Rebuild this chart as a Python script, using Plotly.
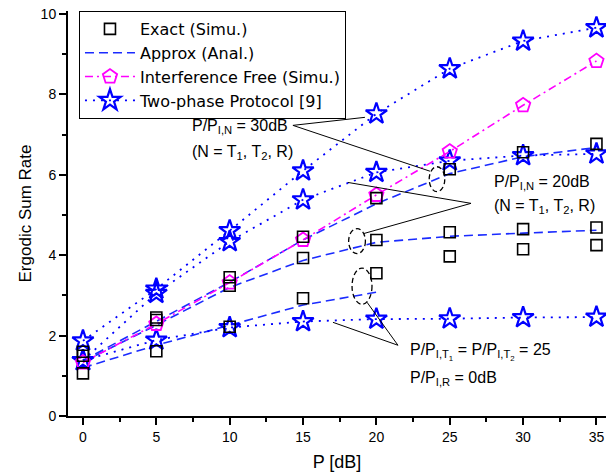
import plotly.graph_objects as go

# ---------------- data ----------------
p_db = [0, 5, 10, 15, 20, 25, 30, 35]
x_ticks = [0, 5, 10, 15, 20, 25, 30, 35]
y_ticks = [0, 2, 4, 6, 8, 10]

# Exact (Simu.) - three cases: 30dB, 20dB, T1/T2=25, R=0dB
exact_30 = [1.60, 2.45, 3.45, 4.46, 5.42, 6.14, 6.56, 6.77]
exact_20 = [1.50, 2.39, 3.24, 3.93, 4.38, 4.57, 4.65, 4.69]
exact_0 = [1.06, 1.61, 2.22, 2.93, 3.55, 3.97, 4.15, 4.25]

# Approx (Anal.)
approx_30 = [1.38, 2.36, 3.33, 4.38, 5.28, 6.03, 6.45, 6.68]
approx_20 = [1.35, 2.26, 3.20, 3.87, 4.32, 4.47, 4.55, 4.62]
approx_0 = [1.20, 1.76, 2.26, 2.76, 3.08, None, None, None]

# Interference Free (Simu.)
free = [1.33, 2.29, 3.32, 4.38, 5.50, 6.58, 7.73, 8.83]

# Two-phase Protocol [9]
two_30 = [1.87, 3.16, 4.61, 6.10, 7.52, 8.64, 9.33, 9.66]
two_20 = [1.38, 3.05, 4.34, 5.38, 6.06, 6.35, 6.48, 6.52]
two_0 = [1.38, 1.89, 2.20, 2.35, 2.41, 2.42, 2.45, 2.46]

legend_names = ["Exact (Simu.)", "Approx (Anal.)", "Interference Free (Simu.)", "Two-phase Protocol [9]"]

BLUE = "#0000ff"
BLUE_D = "#1a2bff"
MAG = "#ff00ff"
FONT = "Liberation Sans, Arial, sans-serif"
LEG_FONT = "DejaVu Sans, Liberation Sans, sans-serif"

fig = go.Figure()

# Approx lines
for i, ys in enumerate([approx_30, approx_20, approx_0]):
    fig.add_trace(go.Scatter(
        x=p_db, y=ys, mode="lines", name=legend_names[1],
        legendgroup="approx", showlegend=(i == 0), legendrank=2,
        line=dict(color=BLUE_D, width=1.6, dash="9px,5px"),
        connectgaps=False))

# Two-phase dotted lines + stars
for i, ys in enumerate([two_30, two_20, two_0]):
    fig.add_trace(go.Scatter(
        x=p_db, y=ys, mode="lines+markers", name=legend_names[3],
        legendgroup="two", showlegend=(i == 0), legendrank=4,
        line=dict(color=BLUE, width=1.8, dash="2px,6px"),
        marker=dict(symbol="star-open", size=16, color=BLUE,
                    line=dict(color=BLUE, width=2.2))))

# Interference free
fig.add_trace(go.Scatter(
    x=p_db, y=free, mode="lines+markers", name=legend_names[2],
    legendgroup="free", legendrank=3,
    line=dict(color=MAG, width=1.6, dash="8px,4px,2px,4px"),
    marker=dict(symbol="pentagon-open", size=15, color=MAG,
                line=dict(color=MAG, width=1.8))))

# Exact squares
for i, ys in enumerate([exact_30, exact_20, exact_0]):
    fig.add_trace(go.Scatter(
        x=p_db, y=ys, mode="markers", name=legend_names[0],
        legendgroup="exact", showlegend=(i == 0), legendrank=1,
        marker=dict(symbol="square-open", size=11, color="black",
                    line=dict(color="black", width=1.6))))

# ---------------- annotations ----------------
ann_font = dict(family=FONT, size=16, color="black")
texts = [
    (7.29, 7.19, "P/P<sub>I,N</sub> = 30dB"),
    (7.29, 6.56, "(N = T<sub>1</sub>, T<sub>2</sub>, R)"),
    (27.88, 5.81, "P/P<sub>I,N</sub> = 20dB"),
    (27.88, 5.22, "(N = T<sub>1</sub>, T<sub>2</sub>, R)"),
    (22.15, 1.58, "P/P<sub>I,T<sub>1</sub></sub> = P/P<sub>I,T<sub>2</sub></sub> = 25"),
    (22.15, 0.94, "P/P<sub>I,R</sub> = 0dB"),
]
for x, y, t in texts:
    fig.add_annotation(x=x, y=y, xref="x", yref="y", text=t, showarrow=False,
                       xanchor="left", yanchor="middle", font=ann_font)

line_style = dict(color="black", width=1)
segments = [
    ((14.31, 7.23), (19.22, 7.43)),
    ((14.31, 7.23), (23.65, 6.09)),
    ((26.45, 5.29), (18.06, 5.81)),
    ((26.45, 5.29), (19.15, 4.54)),
    ((21.47, 1.76), (19.36, 2.83)),
    ((21.47, 1.76), (17.04, 2.33)),
]
for (xa, ya), (xb, yb) in segments:
    fig.add_shape(type="line", x0=xa, y0=ya, x1=xb, y1=yb, xref="x", yref="y",
                  line=line_style)

ellipses = [
    (23.60, 5.58, 24.66, 6.20),
    (18.11, 4.04, 19.25, 4.66),
    (18.34, 2.78, 19.70, 3.68),
]
for x0, y0, x1, y1 in ellipses:
    fig.add_shape(type="circle", x0=x0, y0=y0, x1=x1, y1=y1, xref="x", yref="y",
                  line=dict(color="black", width=1.3, dash="5px,3px"))

# ---------------- layout ----------------
fig.update_layout(
    template="none",
    width=606, height=475,
    margin=dict(l=68, r=0, t=11, b=59, pad=0),
    paper_bgcolor="white", plot_bgcolor="white",
    font=dict(family=FONT, size=14, color="black"),
    legend=dict(x=0.0204, y=1.0, xanchor="left", yanchor="top",
                bgcolor="white", bordercolor="black", borderwidth=1,
                font=dict(family=LEG_FONT, size=16, color="black"),
                itemwidth=50, traceorder="normal"),
    xaxis=dict(range=[-1.02, 35.65], tickvals=x_ticks, ticktext=[str(v) for v in x_ticks],
               automargin=False,
               showgrid=False, zeroline=False, showline=True, linecolor="black", linewidth=2,
               ticks="outside", ticklen=7, tickwidth=1.5, tickcolor="black",
               tickfont=dict(size=14),
               minor=dict(dtick=2.5, tick0=0, ticks="outside", ticklen=4, tickwidth=1.5,
                          tickcolor="black", showgrid=False),
               title=dict(text="P [dB]", font=dict(size=18), standoff=12)),
    yaxis=dict(range=[0, 10.075], tickvals=y_ticks, ticktext=[str(v) for v in y_ticks],
               automargin=False,
               showgrid=False, zeroline=False, showline=True, linecolor="black", linewidth=2,
               ticks="outside", ticklen=7, tickwidth=1.5, tickcolor="black",
               tickfont=dict(size=14),
               minor=dict(dtick=1, tick0=0, ticks="outside", ticklen=4, tickwidth=1.5,
                          tickcolor="black", showgrid=False),
               title=dict(text="Ergodic Sum Rate", font=dict(size=17), standoff=5)),
)

fig.write_html("out.html",
               config={"displayModeBar": False},
               post_script="document.body.style.margin='0';document.body.style.padding='0';")
